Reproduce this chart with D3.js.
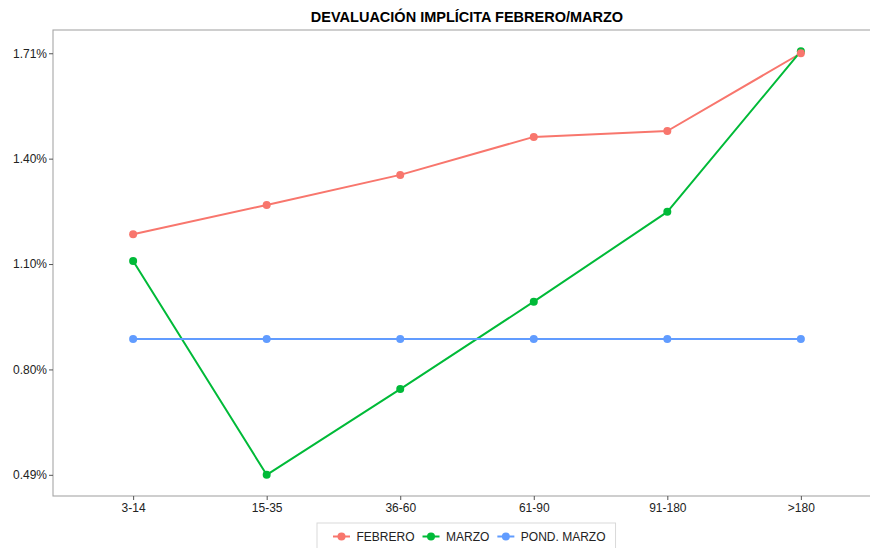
<!DOCTYPE html>
<html>
<head>
<meta charset="utf-8">
<script src="https://cdn.jsdelivr.net/npm/d3@7"></script>
<style>
  html, body { margin: 0; padding: 0; background: #fff; }
  svg { display: block; font-family: "Liberation Sans", Arial, sans-serif; }
</style>
</head>
<body>
<svg id="chart" width="870" height="548"></svg>
<script>
// ---- data ----
const categories = ["3-14", "15-35", "36-60", "61-90", "91-180", ">180"];
const febrero    = [1.186, 1.271, 1.358, 1.468, 1.485, 1.710];
const marzo      = [1.109, 0.490, 0.738, 0.991, 1.251, 1.716];
const pondMarzo  = [0.883, 0.883, 0.883, 0.883, 0.883, 0.883];
const seriesNames = ["FEBRERO", "MARZO", "POND. MARZO"];
const yTickValues = [0.49, 0.795, 1.10, 1.405, 1.71];
const yTickLabels = ["0.49%", "0.80%", "1.10%", "1.40%", "1.71%"];
const titleText = "DEVALUACIÓN IMPLÍCITA FEBRERO/MARZO";

// ---- styles / layout ----
const colors = ["#F8766D", "#00BA38", "#619CFF"];
const panel = { left: 53, right: 881, top: 30, bottom: 496 };

const svg = d3.select("#chart");

const series = [febrero, marzo, pondMarzo].map((vals, i) => ({
  name: seriesNames[i], color: colors[i],
  values: vals.map((v, j) => ({ cat: categories[j], v }))
}));

const x = d3.scalePoint().domain(categories)
  .range([panel.left, panel.right]).padding(0.6);

const all = [].concat(febrero, marzo, pondMarzo);
const lo = d3.min(all), hi = d3.max(all), ex = (hi - lo) * 0.05;
const y = d3.scaleLinear().domain([lo - ex, hi + ex])
  .range([panel.bottom, panel.top]);

// panel border
svg.append("rect")
  .attr("x", panel.left).attr("y", panel.top)
  .attr("width", panel.right - panel.left)
  .attr("height", panel.bottom - panel.top)
  .attr("fill", "none").attr("stroke", "#A6A6A6").attr("stroke-width", 1.1);

// y axis
const yAxis = d3.axisLeft(y).tickValues(yTickValues)
  .tickFormat((d, i) => yTickLabels[i]).tickSize(4).tickPadding(2);
const gy = svg.append("g").attr("transform", `translate(${panel.left},0)`).call(yAxis);
gy.select(".domain").remove();
gy.selectAll(".tick line").attr("stroke", "#555");
gy.selectAll(".tick text").attr("fill", "#222").style("font-size", "12px");

// x axis
const xAxis = d3.axisBottom(x).tickSize(4).tickPadding(3);
const gx = svg.append("g").attr("transform", `translate(0,${panel.bottom})`).call(xAxis);
gx.select(".domain").remove();
gx.selectAll(".tick line").attr("stroke", "#555");
gx.selectAll(".tick text").attr("fill", "#222").style("font-size", "12px");

// lines
const line = d3.line().x(d => x(d.cat)).y(d => y(d.v));
svg.append("g").selectAll("path").data(series).join("path")
  .attr("d", d => line(d.values))
  .attr("fill", "none").attr("stroke", d => d.color)
  .attr("stroke-width", 2).attr("stroke-linejoin", "round");

// points (FEBRERO drawn last so it sits on top)
const order = [1, 2, 0];
order.forEach(i => {
  svg.append("g").selectAll("circle").data(series[i].values).join("circle")
    .attr("cx", d => x(d.cat)).attr("cy", d => y(d.v))
    .attr("r", 4).attr("fill", series[i].color);
});

// title
svg.append("text")
  .attr("x", (panel.left + panel.right) / 2).attr("y", 22)
  .attr("text-anchor", "middle")
  .style("font-size", "14.5px").style("font-weight", "bold").attr("fill", "#000")
  .text(titleText);

// legend
const lg = svg.append("g");
const box = lg.append("rect")
  .attr("y", 523).attr("height", 32)
  .attr("fill", "#fff").attr("stroke", "#D9D9D9").attr("stroke-width", 1);
let cx = 333;
const ly = 536.5;
series.forEach(s => {
  lg.append("line").attr("x1", cx).attr("x2", cx + 17)
    .attr("y1", ly).attr("y2", ly)
    .attr("stroke", s.color).attr("stroke-width", 2);
  lg.append("circle").attr("cx", cx + 8.5).attr("cy", ly).attr("r", 4).attr("fill", s.color);
  const t = lg.append("text").attr("x", cx + 23.5).attr("y", ly + 4.3)
    .style("font-size", "12px").attr("fill", "#222").text(s.name);
  cx = cx + 23.5 + t.node().getComputedTextLength() + 8;
});
box.attr("x", 317).attr("width", cx - 317 + 2);
</script>
</body>
</html>
